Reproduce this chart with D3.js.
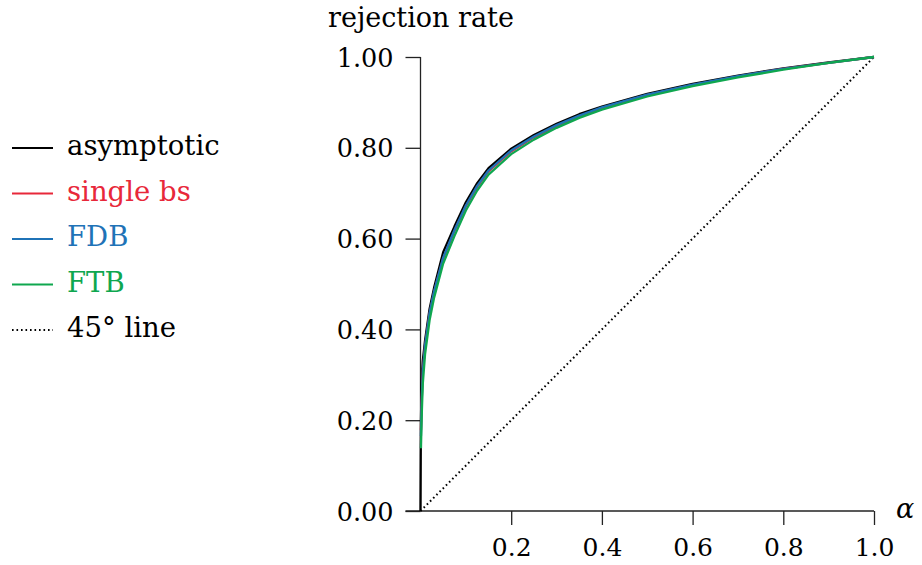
<!DOCTYPE html>
<html><head><meta charset="utf-8">
<script src="https://cdn.jsdelivr.net/npm/d3@7"></script>
<style>
body{margin:0;background:#fff;}
svg text{font-family:"DejaVu Serif",serif;}
</style></head>
<body><svg id="c" width="922" height="565"></svg>
<script>
const alpha = [0, 0.0005, 0.001, 0.0025, 0.005, 0.01, 0.02, 0.03, 0.05, 0.075, 0.1, 0.125, 0.15, 0.2, 0.25, 0.3, 0.35, 0.4, 0.5, 0.6, 0.7, 0.8, 0.9, 1.0];
const asymptotic = [0, 0.12, 0.2, 0.28, 0.33, 0.375, 0.445, 0.492, 0.57, 0.627, 0.68, 0.722, 0.755, 0.798, 0.828, 0.853, 0.874, 0.891, 0.919, 0.941, 0.959, 0.975, 0.988, 1.0];
const singleBs = [null, null, 0.178, 0.24, 0.305, 0.362, 0.434, 0.482, 0.556, 0.617, 0.671, 0.714, 0.748, 0.792, 0.823, 0.848, 0.869, 0.887, 0.916, 0.938, 0.957, 0.974, 0.987, 1.0];
const fdb = [null, null, 0.165, 0.235, 0.305, 0.364, 0.436, 0.484, 0.558, 0.619, 0.673, 0.716, 0.750, 0.794, 0.825, 0.850, 0.871, 0.889, 0.917, 0.939, 0.958, 0.974, 0.987, 1.0];
const ftb = [null, null, 0.138, 0.205, 0.28, 0.345, 0.42, 0.47, 0.545, 0.606, 0.662, 0.706, 0.741, 0.786, 0.818, 0.844, 0.866, 0.884, 0.913, 0.936, 0.955, 0.972, 0.987, 1.0];
const diagonal = [0, 1];
const seriesNames = ["asymptotic", "single bs", "FDB", "FTB", "45° line"];
const seriesColors = ["#000000", "#e8283a", "#1f73b7", "#0fa74f", "#000000"];
const yTicks = [0, 0.2, 0.4, 0.6, 0.8, 1.0];
const xTicks = [0.2, 0.4, 0.6, 0.8, 1.0];

const svg = d3.select("#c");
const x = d3.scaleLinear().domain([0, 1]).range([420.5, 874]);
const y = d3.scaleLinear().domain([0, 1]).range([511, 57]);

// axes
const gy = svg.append("g").attr("transform", `translate(${x(0)},0)`)
  .call(d3.axisLeft(y).tickValues(yTicks).tickFormat(d3.format(".2f")).tickSize(15).tickPadding(12).tickSizeOuter(0));
gy.select(".domain").remove();
gy.selectAll(".tick line").attr("stroke", "#222").attr("stroke-width", 1.3);
gy.selectAll(".tick text").attr("font-size", 25.5).attr("fill", "#000").attr("dy", "0.36em");
svg.append("line").attr("x1", x(0)).attr("x2", x(0)).attr("y1", y(0)).attr("y2", y(1))
  .attr("stroke", "#222").attr("stroke-width", 1.3);

const gx = svg.append("g").attr("transform", `translate(0,${y(0)})`)
  .call(d3.axisBottom(x).tickValues(xTicks).tickFormat(d3.format(".1f")).tickSize(14).tickPadding(12).tickSizeOuter(0));
gx.select(".domain").remove();
gx.selectAll(".tick line").attr("stroke", "#222").attr("stroke-width", 1.3);
gx.selectAll(".tick text").attr("font-size", 25).attr("fill", "#000").attr("dy", "0.75em");
svg.append("line").attr("x1", x(0) - 15).attr("x2", x(1)).attr("y1", y(0)).attr("y2", y(0))
  .attr("stroke", "#222").attr("stroke-width", 1.3);

svg.append("text").attr("x", 328).attr("y", 27).attr("font-size", 27).text("rejection rate");
svg.append("text").attr("x", 896).attr("y", 518).attr("font-size", 27).attr("font-style", "italic").text("α");

// lines
const line = d3.line().defined(d => d[1] !== null).x(d => x(d[0])).y(d => y(d[1]));
svg.append("path").datum(diagonal.map(v => [v, v])).attr("d", line)
  .attr("fill", "none").attr("stroke", "#000").attr("stroke-width", 2).attr("stroke-dasharray", "1.6,2.9");
const allSeries = [asymptotic, singleBs, fdb, ftb];
allSeries.forEach((s, i) => {
  svg.append("path").datum(alpha.map((a, j) => [a, s[j]])).attr("d", line)
    .attr("fill", "none").attr("stroke", seriesColors[i]).attr("stroke-width", 2.3)
    .attr("stroke-linejoin", "round");
});

// legend
const lg = svg.append("g");
seriesNames.forEach((n, i) => {
  const yy = 148 + i * 45.5;
  lg.append("line").attr("x1", 12).attr("x2", 53).attr("y1", yy).attr("y2", yy)
    .attr("stroke", seriesColors[i]).attr("stroke-width", i === 4 ? 2 : 2)
    .attr("stroke-dasharray", i === 4 ? "1.6,2.9" : null);
  lg.append("text").attr("x", 67).attr("y", yy + 7).attr("font-size", 27.5)
    .attr("fill", i === 4 ? "#000" : seriesColors[i]).text(n);
});
</script></body></html>
